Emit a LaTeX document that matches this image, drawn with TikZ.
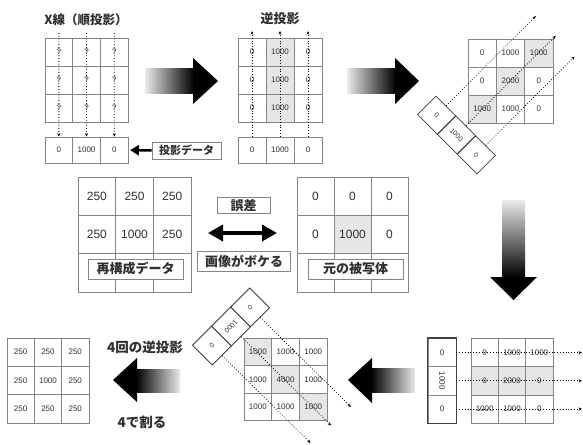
\documentclass[tikz,border=0pt]{standalone}
\usepackage{fontspec}
\usepackage{graphicx}
\setmainfont{Liberation Sans}
\newfontfamily\jp{Noto Sans CJK JP}
\usetikzlibrary{arrows.meta}
\definecolor{gridc}{HTML}{858585}
\definecolor{shadec}{HTML}{E6E6E6}
\definecolor{txtc}{HTML}{303030}
\newcommand\mkgrid[6]{%
  \foreach \rr/\cc/\vv/\ff in {#6} {
    \node[cellbox, minimum width=#4pt, minimum height=#5pt, fill=\ff] (#1\rr\cc)
      at ({#2+(\cc-0.5)*#4},{#3+(\rr-0.5)*#5}) {\vv};
  }}
\begin{document}
\begin{tikzpicture}[x=1pt,y=-1pt,
  cellbox/.style={draw=gridc, line width=0.7pt, inner sep=0pt, anchor=center, text=txtc},
  smallnum/.style={font=\fontsize{8}{9}\selectfont},
  bignum/.style={font=\fontsize{12}{14}\selectfont},
  jplabel/.style={font=\jp\bfseries\fontsize{13}{15}\selectfont, text=txtc, inner sep=0pt},
  labelbox/.style={draw=gridc, fill=white, line width=0.8pt, jplabel},
  ray/.style={dotted, line width=0.8pt, -{Stealth[length=3.5pt,width=3pt]}},
  det/.style={draw=black!75, line width=0.8pt, inner sep=0pt, text=txtc, font=\fontsize{7}{8}\selectfont},
  dblarrow/.style={line width=3.5pt, {Triangle[length=15pt,width=16pt]}-{Triangle[length=15pt,width=16pt]}},
  thickarrow/.style={line width=2.5pt, -{Triangle[length=9pt,width=10pt]}},
]
\fill[white] (0,0) rectangle (583,444);
\useasboundingbox (0,0) rectangle (583,444);

% ---------- titles ----------
\node[jplabel, font=\jp\bfseries\fontsize{12.5}{14}\selectfont] (title1) at (86,19.5) {X線（順投影）};
\node[jplabel] (title2) at (280,19) {逆投影};
\node[jplabel, font=\jp\bfseries\fontsize{13.5}{15}\selectfont] (lab4) at (145,347) {4回の逆投影};
\node[jplabel, font=\jp\bfseries\fontsize{13.5}{15}\selectfont] (lab5) at (142,422) {4で割る};

% ---------- big gradient arrows ----------
\shade[left color=black!8, right color=black] (145,68) rectangle (194,93);
\fill[black] (193,58) -- (218,81) -- (193,104) -- cycle;
\shade[left color=black!8, right color=black] (347,68) rectangle (396,93);
\fill[black] (395,58) -- (419,81) -- (395,104) -- cycle;
\shade[top color=black!8, bottom color=black] (502,200) rectangle (525,278);
\fill[black] (490,277) -- (513.5,300) -- (537,277) -- cycle;
\shade[left color=black, right color=black!8] (371,368) rectangle (415,392);
\fill[black] (372,358) -- (348,380) -- (372,403) -- cycle;
\shade[left color=black, right color=black!8] (136,369) rectangle (180,392);
\fill[black] (137,358) -- (113,380) -- (137,402) -- cycle;

% ---------- small grids ----------
\begin{scope}[nodes={smallnum}]
\mkgrid{a}{45}{38}{27.7}{28}{1/1/?/white,1/2/?/white,1/3/?/white,2/1/?/white,2/2/?/white,2/3/?/white,3/1/?/white,3/2/?/white,3/3/?/white}
\mkgrid{ad}{45}{137}{27.7}{26}{1/1/0/white,1/2/1000/white,1/3/0/white}
\mkgrid{b}{238}{38}{28}{28}{1/1/0/white,1/2/1000/shadec,1/3/0/white,2/1/0/white,2/2/1000/shadec,2/3/0/white,3/1/0/white,3/2/1000/shadec,3/3/0/white}
\mkgrid{bd}{238}{137}{28}{26}{1/1/0/white,1/2/1000/white,1/3/0/white}
\mkgrid{c}{468}{39}{28.3}{28}{1/1/0/white,1/2/1000/white,1/3/1000/shadec,2/1/0/white,2/2/2000/shadec,2/3/0/white,3/1/1000/shadec,3/2/1000/white,3/3/0/white}
\mkgrid{e}{471}{338.5}{27.3}{28.2}{1/1/0/white,1/2/1000/white,1/3/1000/white,2/1/0/shadec,2/2/2000/shadec,2/3/0/shadec,3/1/1000/white,3/2/1000/white,3/3/0/white}
\mkgrid{f}{244}{338}{27.7}{27.5}{1/1/1000/shadec,1/2/1000/white,1/3/1000/white,2/1/1000/white,2/2/4000/shadec,2/3/1000/white,3/1/1000/white,3/2/1000/white,3/3/1000/shadec}
\mkgrid{g}{7}{338}{27.3}{28.3}{1/1/250/white,1/2/250/white,1/3/250/white,2/1/250/white,2/2/1000/white,2/3/250/white,3/1/250/white,3/2/250/white,3/3/250/white}
\end{scope}

% ---------- middle grids ----------
\begin{scope}[nodes={bignum}]
\mkgrid{h}{78}{177}{37.7}{38.3}{1/1/250/white,1/2/250/white,1/3/250/white,2/1/250/white,2/2/1000/white,2/3/250/white,3/1//white,3/2//white,3/3//white}
\mkgrid{i}{297}{177}{37}{38.3}{1/1/0/white,1/2/0/white,1/3/0/white,2/1/0/white,2/2/1000/shadec,2/3/0/white,3/1//white,3/2//white,3/3//white}
\end{scope}
\node[labelbox, minimum width=95pt, minimum height=20pt] (hl) at (135.5,269) {再構成データ};
\node[labelbox, minimum width=95pt, minimum height=20pt] (il) at (355.5,269) {元の被写体};
\node[labelbox, minimum width=53pt, minimum height=16pt] (err) at (243.5,205.5) {誤差};
\node[labelbox, minimum width=93pt, minimum height=20pt] (blur) at (244,261) {画像がボケる};
\coordinate (dl) at (208,233);
\coordinate (dr) at (277,233);
\draw[dblarrow] (dl) -- (dr);

% ---------- projection data label ----------
\node[labelbox, font=\jp\bfseries\fontsize{11}{13}\selectfont, minimum width=69pt, minimum height=17pt] (pd) at (186.5,150.5) {投影データ};
\draw[thickarrow, shorten >=1.5pt] (pd.west) -- (ad13.east);

% ---------- rotated detectors ----------
\node[det, rotate=-45, minimum width=28pt, minimum height=26pt] (cd1) at (436.7,115.2) {0};
\node[det, rotate=-45, minimum width=28pt, minimum height=26pt] (cd2) at (456.5,135) {1000};
\node[det, rotate=-45, minimum width=28pt, minimum height=26pt] (cd3) at (476.3,154.8) {0};

\node[det, rotate=225, minimum width=27pt, minimum height=28pt] (fd1) at (211.9,345.6) {0};
\node[det, rotate=225, minimum width=27pt, minimum height=28pt] (fd2) at (231,326.5) {1000};
\node[det, rotate=225, minimum width=27pt, minimum height=28pt] (fd3) at (250.1,307.4) {0};

\node[cellbox, font=\fontsize{8}{9}\selectfont, minimum width=28pt, minimum height=28.2pt] (ed1) at (442,352.6) {0};
\node[cellbox, font=\fontsize{8}{9}\selectfont, minimum width=28pt, minimum height=28.2pt] (ed2) at (442,380.8) {\rotatebox{-90}{1000}};
\node[cellbox, font=\fontsize{8}{9}\selectfont, minimum width=28pt, minimum height=28.2pt] (ed3) at (442,409) {0};
\draw[line width=1.6pt, black!75] (ed1.north west) rectangle (ed3.south east);

% ---------- rays ----------
\coordinate (as1) at (58.85,33);
\coordinate (as2) at (86.55,33);
\coordinate (as3) at (114.25,33);
\draw[ray] (as1) -- (ad11.north);
\draw[ray] (as2) -- (ad12.north);
\draw[ray] (as3) -- (ad13.north);

\coordinate (bt1) at (252,31);
\coordinate (bt2) at (280,31);
\coordinate (bt3) at (308,31);
\draw[ray] (bd11.north) -- (bt1);
\draw[ray] (bd12.north) -- (bt2);
\draw[ray] (bd13.north) -- (bt3);

\coordinate (ct1) at (535.9,16);
\coordinate (ct2) at (555.7,35.8);
\coordinate (ct3) at (574.5,56.6);
\draw[ray] (cd1.north) -- (ct1);
\draw[ray] (cd2.north) -- (ct2);
\draw[ray] (cd3.north) -- (ct3);

\coordinate (ft1) at (310.5,443);
\coordinate (ft2) at (331,425.5);
\coordinate (ft3) at (351,407);
\draw[ray] (fd1.north) -- (ft1);
\draw[ray] (fd2.north) -- (ft2);
\draw[ray] (fd3.north) -- (ft3);

\coordinate (et1) at (582,352.6);
\coordinate (et2) at (582,380.8);
\coordinate (et3) at (582,409);
\draw[ray] (ed1.east) -- (et1);
\draw[ray] (ed2.east) -- (et2);
\draw[ray] (ed3.east) -- (et3);
\end{tikzpicture}
\end{document}
